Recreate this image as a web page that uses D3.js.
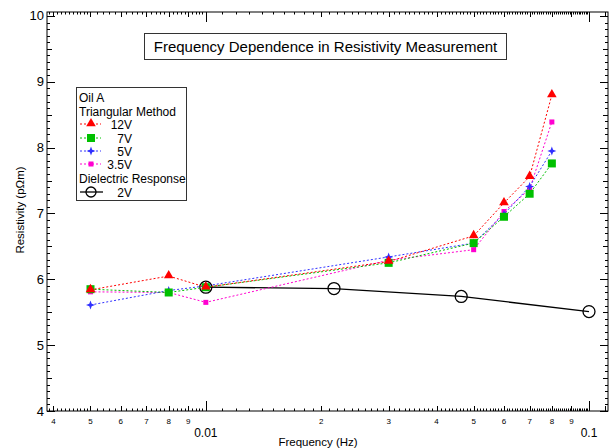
<!DOCTYPE html>
<html>
<head>
<meta charset="utf-8">
<script src="https://cdn.jsdelivr.net/npm/d3@7"></script>
<style>
body { margin: 0; background: #fff; }
svg { font-family: Arial, "Liberation Sans", sans-serif; }
</style>
</head>
<body>
<div id="chart"></div>
<script>
// frequencies (Hz)
const freqTri = [0.005, 0.008, 0.01, 0.03, 0.05, 0.06, 0.07, 0.08];
const res12V = [5.84, 6.05, 5.88, 6.27, 6.66, 7.16, 7.56, 8.80];
const res7V = [5.85, 5.80, 5.88, 6.25, 6.55, 6.95, 7.30, 7.76];
const res5V = [5.61, 5.83, 5.90, 6.34, 6.55, 6.99, 7.41, 7.95];
const res35V = [5.81, 5.80, 5.65, 6.29, 6.45, 7.03, 7.37, 8.39];
const freqDiel = [0.01, 0.0216, 0.0464, 0.1];
const res2V = [5.88, 5.86, 5.74, 5.51];

const series = [
    { label: "12V", values: res12V, color: "#ff0000", marker: "triangle" },
    { label: "7V", values: res7V, color: "#00c000", marker: "square" },
    { label: "5V", values: res5V, color: "#3030ff", marker: "star" },
    { label: "3.5V", values: res35V, color: "#ff00d0", marker: "smallsquare" }
];

const width = 610, height = 448;
const plotL = 47, plotR = 608, plotT = 12, plotB = 411;

const svg = d3.select("#chart").append("svg")
    .attr("width", width)
    .attr("height", height);

const x = d3.scaleLog().domain([0.00385, 0.1121]).range([plotL, plotR]);
const y = d3.scaleLinear().domain([4, 10.06]).range([plotB, plotT]);

// minor tick lists
let xTicks = [];
[0.001, 0.01].forEach(dec => {
    for (let k = 1; k < 10; k++) {
        const step = (dec === 0.001 && k >= 5) ? 0.2 : 0.1;
        for (let s = 0; s < 1 - 1e-9; s += step) {
            const v = dec * (k + s);
            if (v < x.domain()[0] || v > x.domain()[1]) continue;
            let len = 2.5;
            if (s === 0) len = (k === 1) ? 10 : 5;
            xTicks.push({ v: v, len: len });
        }
    }
});
xTicks.push({ v: 0.1, len: 10 });
xTicks.push({ v: 0.11, len: 5 });

let yTicks = [];
for (let i = 40; i <= 100; i++) {
    yTicks.push({ v: i / 10, len: i % 10 === 0 ? 8 : (i % 5 === 0 ? 5 : 3) });
}

// frame
const ax = svg.append("g").attr("stroke", "#000").attr("stroke-width", 1);
ax.append("rect")
    .attr("x", plotL).attr("y", plotT)
    .attr("width", plotR - plotL).attr("height", plotB - plotT)
    .attr("fill", "none");

ax.selectAll(".xtb").data(xTicks).enter().append("line")
    .attr("x1", d => Math.round(x(d.v)) + 0.5).attr("x2", d => Math.round(x(d.v)) + 0.5)
    .attr("y1", plotB).attr("y2", d => plotB - d.len);
ax.selectAll(".xtt").data(xTicks).enter().append("line")
    .attr("x1", d => Math.round(x(d.v)) + 0.5).attr("x2", d => Math.round(x(d.v)) + 0.5)
    .attr("y1", plotT).attr("y2", d => plotT + d.len);
ax.selectAll(".ytl").data(yTicks).enter().append("line")
    .attr("y1", d => Math.round(y(d.v)) + 0.5).attr("y2", d => Math.round(y(d.v)) + 0.5)
    .attr("x1", plotL).attr("x2", d => plotL + d.len);
ax.selectAll(".ytr").data(yTicks).enter().append("line")
    .attr("y1", d => Math.round(y(d.v)) + 0.5).attr("y2", d => Math.round(y(d.v)) + 0.5)
    .attr("x1", plotR).attr("x2", d => plotR - d.len);

// x tick labels
const digitTicks = [0.004, 0.005, 0.006, 0.007, 0.008, 0.009, 0.02, 0.03, 0.04, 0.05, 0.06, 0.07, 0.08, 0.09];
svg.selectAll(".xdl").data(digitTicks).enter().append("text")
    .attr("x", d => x(d)).attr("y", 424)
    .attr("text-anchor", "middle")
    .attr("font-size", 8)
    .text(d => Math.round(d / Math.pow(10, Math.floor(Math.log10(d) + 1e-9))));
svg.selectAll(".xml").data([0.01, 0.1]).enter().append("text")
    .attr("x", d => x(d)).attr("y", 437)
    .attr("text-anchor", "middle")
    .attr("font-size", 12)
    .text(d => d);
svg.append("text")
    .attr("x", 318).attr("y", 446)
    .attr("text-anchor", "middle")
    .attr("font-size", 11.5)
    .text("Frequency (Hz)");

// y tick labels
svg.selectAll(".yl").data(d3.range(4, 11)).enter().append("text")
    .attr("x", 44).attr("y", d => y(d) + 4.5)
    .attr("text-anchor", "end")
    .attr("font-size", 13)
    .text(d => d);
svg.append("text")
    .attr("transform", "translate(24,210) rotate(-90)")
    .attr("text-anchor", "middle")
    .attr("font-size", 11.5)
    .text("Resistivity (p\u03A9m)");

// title box
svg.append("rect")
    .attr("x", 144.5).attr("y", 33.5).attr("width", 362).attr("height", 26)
    .attr("fill", "#fff").attr("stroke", "#333");
svg.append("text")
    .attr("x", 325.5).attr("y", 52)
    .attr("text-anchor", "middle")
    .attr("font-size", 15)
    .text("Frequency Dependence in Resistivity Measurement");

// markers
function drawMarker(g, type, cx, cy, color) {
    if (type === "triangle") {
        g.append("path")
            .attr("d", d3.symbol().type(d3.symbolTriangle).size(40)())
            .attr("transform", `translate(${cx},${cy - 0.5})`)
            .attr("fill", color);
    } else if (type === "square") {
        g.append("rect")
            .attr("x", cx - 4).attr("y", cy - 4).attr("width", 8).attr("height", 8)
            .attr("fill", color);
    } else if (type === "star") {
        g.append("path")
            .attr("d", "M0,-4.5L1.2,-1.2L4.5,0L1.2,1.2L0,4.5L-1.2,1.2L-4.5,0L-1.2,-1.2Z")
            .attr("transform", `translate(${cx},${cy})`)
            .attr("fill", color);
    } else if (type === "smallsquare") {
        g.append("rect")
            .attr("x", cx - 2.5).attr("y", cy - 2.5).attr("width", 5).attr("height", 5)
            .attr("fill", color);
    }
}

const line = d3.line().x(d => x(d[0])).y(d => y(d[1]));

// dielectric response (drawn under the triangular series)
const dielPts = freqDiel.map((f, i) => [f, res2V[i]]);
svg.append("path")
    .attr("d", line(dielPts))
    .attr("fill", "none").attr("stroke", "#000").attr("stroke-width", 1.3);
svg.selectAll(".circ").data(dielPts).enter().append("circle")
    .attr("cx", d => x(d[0])).attr("cy", d => y(d[1]))
    .attr("r", 6)
    .attr("fill", "none").attr("stroke", "#000").attr("stroke-width", 1.3);

series.slice().reverse().forEach(s => {
    const pts = freqTri.map((f, i) => [f, s.values[i]]);
    const g = svg.append("g");
    g.append("path")
        .attr("d", line(pts))
        .attr("fill", "none")
        .attr("stroke", s.color)
        .attr("stroke-width", 1)
        .attr("stroke-dasharray", "2,2");
    pts.forEach(p => drawMarker(g, s.marker, x(p[0]), y(p[1]), s.color));
});

// legend
const lg = svg.append("g");
lg.append("rect")
    .attr("x", 76.5).attr("y", 87.5).attr("width", 110).attr("height", 113)
    .attr("fill", "#fff").attr("stroke", "#333");
const rowY = [97, 111, 124, 138, 151, 164, 178, 192];
lg.append("text").attr("x", 79).attr("y", rowY[0] + 4.5).attr("font-size", 12).text("Oil A");
lg.append("text").attr("x", 79).attr("y", rowY[1] + 4.5).attr("font-size", 12).text("Triangular Method");
series.forEach((s, i) => {
    const ry = rowY[i + 2];
    lg.append("line")
        .attr("x1", 80).attr("x2", 101).attr("y1", ry).attr("y2", ry)
        .attr("stroke", s.color).attr("stroke-dasharray", "2,2");
    drawMarker(lg, s.marker, 91, ry, s.color);
    lg.append("text").attr("x", 132).attr("y", ry + 4.5)
        .attr("text-anchor", "end").attr("font-size", 12).text(s.label);
});
lg.append("text").attr("x", 79).attr("y", rowY[6] + 4.5).attr("font-size", 12).text("Dielectric Response");
lg.append("line")
    .attr("x1", 80).attr("x2", 103).attr("y1", rowY[7]).attr("y2", rowY[7])
    .attr("stroke", "#000").attr("stroke-width", 1.3);
lg.append("circle")
    .attr("cx", 91).attr("cy", rowY[7]).attr("r", 5)
    .attr("fill", "none").attr("stroke", "#000").attr("stroke-width", 1.3);
lg.append("text").attr("x", 132).attr("y", rowY[7] + 4.5)
    .attr("text-anchor", "end").attr("font-size", 12).text("2V");
</script>
</body>
</html>
